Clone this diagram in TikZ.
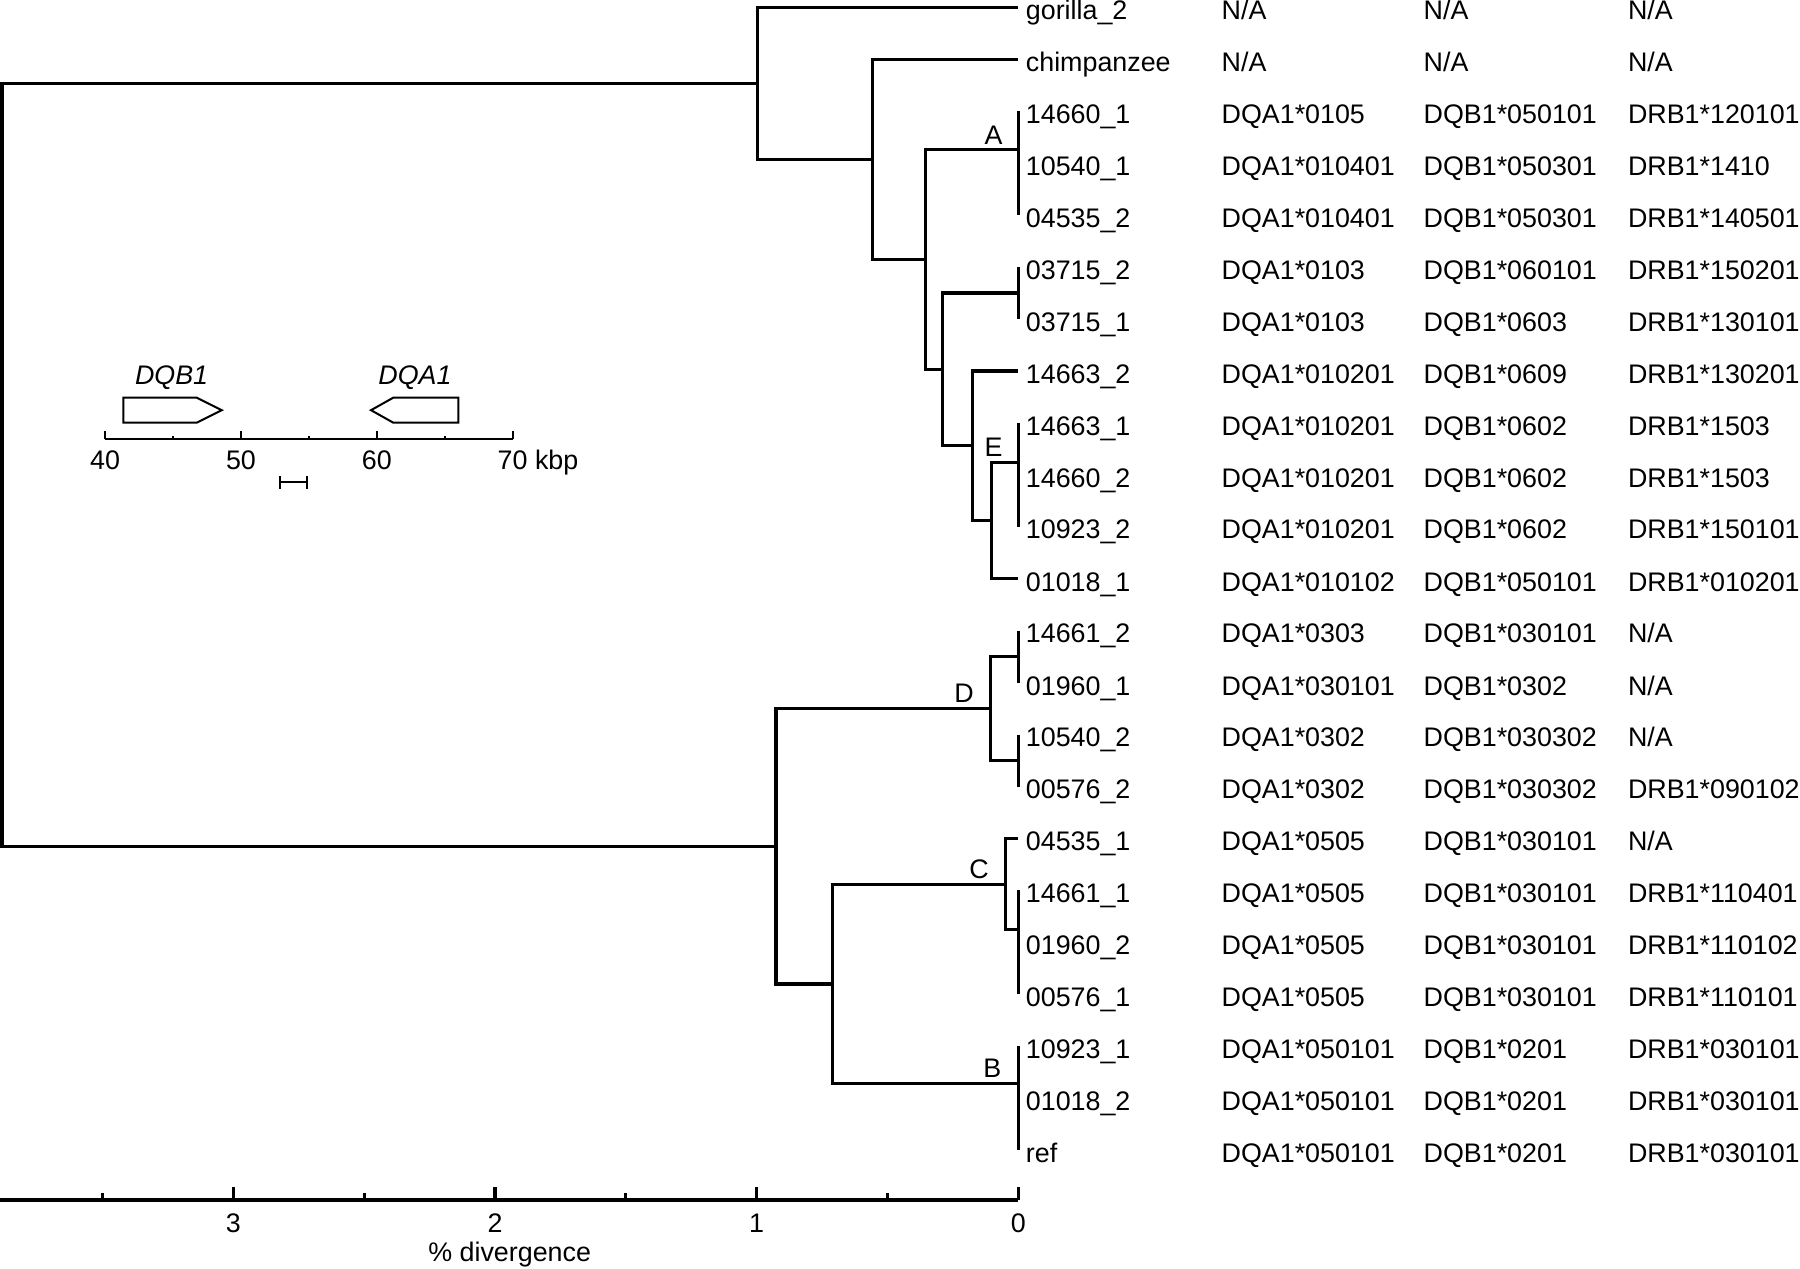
\documentclass[tikz,border=0pt]{standalone}
\usepackage{fontspec}
\setmainfont{Liberation Sans}
\usepackage{tikz}
\usetikzlibrary{arrows.meta}

\begin{document}
\begin{tikzpicture}[x=0.01cm, y=-0.01cm,
  branch/.style={line width=0.8pt},
  mapline/.style={line width=0.5pt},
  txt/.style={font=\fontsize{6.65}{8}\selectfont, inner sep=0pt},
  leaf/.style={txt, anchor=base west},
  allele/.style={txt, anchor=base west},
  clade/.style={txt, anchor=base east},
  ticklbl/.style={txt, anchor=base},
  genelbl/.style={txt, anchor=base, font=\fontsize{6.65}{8}\selectfont\itshape}]
\useasboundingbox (0,0) rectangle (1568,1105);

% tips
\coordinate (p0) at (887,6.4);
\coordinate (p1) at (887,51.7);
\coordinate (p2) at (887,96.9);
\coordinate (p4) at (887,187.4);
\coordinate (p5) at (887,232.7);
\coordinate (p6) at (887,277.9);
\coordinate (p7) at (887,323.2);
\coordinate (p8) at (887,368.4);
\coordinate (p10) at (887,458.9);
\coordinate (p11) at (887,504.2);
\coordinate (p12) at (887,549.4);
\coordinate (p13) at (887,594.7);
\coordinate (p14) at (887,639.9);
\coordinate (p15) at (887,685.2);
\coordinate (p16) at (887,730.4);
\coordinate (p17) at (887,775.7);
\coordinate (p19) at (887,866.2);
\coordinate (p20) at (887,911.4);
\coordinate (p22) at (887,1001.9);

% internal nodes
\coordinate (root) at (1.7,404.9);
\coordinate (nG) at (660,72.6);
\coordinate (nC) at (760,138.9);
\coordinate (nS) at (806,226.1);
\coordinate (nA) at (887,130.4);
\coordinate (nT) at (821,321.8);
\coordinate (nP) at (887,255.3);
\coordinate (nU) at (847,388.3);
\coordinate (nV) at (864,453.5);
\coordinate (nE) at (887,402.8);
\coordinate (nL) at (676,737.2);
\coordinate (nD) at (863,617.3);
\coordinate (nD1) at (887,572);
\coordinate (nD2) at (887,662.5);
\coordinate (nM) at (725,857.1);
\coordinate (nCc) at (876,770.2);
\coordinate (nC3) at (887,810);
\coordinate (nB) at (887,944);

\draw[branch] (root) |- (nG);
\draw[branch] (root) |- (nL);

\draw[branch] (nG) |- (p0);
\draw[branch] (nG) |- (nC);
\draw[branch] (nC) |- (p1);
\draw[branch] (nC) |- (nS);
\draw[branch] (nS) |- (nA);
\draw[branch] (nS) |- (nT);
\draw[branch] (p2) -- (p4);
\draw[branch] (nT) |- (nP);
\draw[branch] (nT) |- (nU);
\draw[branch] (p5) -- (p6);
\draw[branch] (nU) |- (p7);
\draw[branch] (nU) |- (nV);
\draw[branch] (nV) |- (nE);
\draw[branch] (nV) |- (p11);
\draw[branch] (p8) -- (p10);

\draw[branch] (nL) |- (nD);
\draw[branch] (nL) |- (nM);
\draw[branch] (nD) |- (nD1);
\draw[branch] (nD) |- (nD2);
\draw[branch] (p12) -- (p13);
\draw[branch] (p14) -- (p15);
\draw[branch] (nM) |- (nCc);
\draw[branch] (nM) |- (nB);
\draw[branch] (nCc) |- (p16);
\draw[branch] (nCc) |- (nC3);
\draw[branch] (p17) -- (p19);
\draw[branch] (p20) -- (p22);

% clade letters
\node[clade] (cA) at (874,126) {A};
\node[clade] (cE) at (874,398) {E};
\node[clade] (cD) at (849,612) {D};
\node[clade] (cC) at (862,765) {C};
\node[clade] (cB) at (873,939) {B};

% leaves and alleles
\node[leaf] (t0) at (893,17) {gorilla\_2};
\node[allele] (qa0) at (1063.5,17) {N/A};
\node[allele] (qb0) at (1239.5,17) {N/A};
\node[allele] (dr0) at (1417.5,17) {N/A};

\node[leaf] (t1) at (893,62.5) {chimpanzee};
\node[allele] (qa1) at (1063.5,62.5) {N/A};
\node[allele] (qb1) at (1239.5,62.5) {N/A};
\node[allele] (dr1) at (1417.5,62.5) {N/A};

\node[leaf] (t2) at (893,107.5) {14660\_1};
\node[allele] (qa2) at (1063.5,107.5) {DQA1*0105};
\node[allele] (qb2) at (1239.5,107.5) {DQB1*050101};
\node[allele] (dr2) at (1417.5,107.5) {DRB1*120101};

\node[leaf] (t3) at (893,153) {10540\_1};
\node[allele] (qa3) at (1063.5,153) {DQA1*010401};
\node[allele] (qb3) at (1239.5,153) {DQB1*050301};
\node[allele] (dr3) at (1417.5,153) {DRB1*1410};

\node[leaf] (t4) at (893,198) {04535\_2};
\node[allele] (qa4) at (1063.5,198) {DQA1*010401};
\node[allele] (qb4) at (1239.5,198) {DQB1*050301};
\node[allele] (dr4) at (1417.5,198) {DRB1*140501};

\node[leaf] (t5) at (893,243.5) {03715\_2};
\node[allele] (qa5) at (1063.5,243.5) {DQA1*0103};
\node[allele] (qb5) at (1239.5,243.5) {DQB1*060101};
\node[allele] (dr5) at (1417.5,243.5) {DRB1*150201};

\node[leaf] (t6) at (893,288.5) {03715\_1};
\node[allele] (qa6) at (1063.5,288.5) {DQA1*0103};
\node[allele] (qb6) at (1239.5,288.5) {DQB1*0603};
\node[allele] (dr6) at (1417.5,288.5) {DRB1*130101};

\node[leaf] (t7) at (893,334) {14663\_2};
\node[allele] (qa7) at (1063.5,334) {DQA1*010201};
\node[allele] (qb7) at (1239.5,334) {DQB1*0609};
\node[allele] (dr7) at (1417.5,334) {DRB1*130201};

\node[leaf] (t8) at (893,379) {14663\_1};
\node[allele] (qa8) at (1063.5,379) {DQA1*010201};
\node[allele] (qb8) at (1239.5,379) {DQB1*0602};
\node[allele] (dr8) at (1417.5,379) {DRB1*1503};

\node[leaf] (t9) at (893,424.5) {14660\_2};
\node[allele] (qa9) at (1063.5,424.5) {DQA1*010201};
\node[allele] (qb9) at (1239.5,424.5) {DQB1*0602};
\node[allele] (dr9) at (1417.5,424.5) {DRB1*1503};

\node[leaf] (t10) at (893,469.5) {10923\_2};
\node[allele] (qa10) at (1063.5,469.5) {DQA1*010201};
\node[allele] (qb10) at (1239.5,469.5) {DQB1*0602};
\node[allele] (dr10) at (1417.5,469.5) {DRB1*150101};

\node[leaf] (t11) at (893,515) {01018\_1};
\node[allele] (qa11) at (1063.5,515) {DQA1*010102};
\node[allele] (qb11) at (1239.5,515) {DQB1*050101};
\node[allele] (dr11) at (1417.5,515) {DRB1*010201};

\node[leaf] (t12) at (893,560) {14661\_2};
\node[allele] (qa12) at (1063.5,560) {DQA1*0303};
\node[allele] (qb12) at (1239.5,560) {DQB1*030101};
\node[allele] (dr12) at (1417.5,560) {N/A};

\node[leaf] (t13) at (893,605.5) {01960\_1};
\node[allele] (qa13) at (1063.5,605.5) {DQA1*030101};
\node[allele] (qb13) at (1239.5,605.5) {DQB1*0302};
\node[allele] (dr13) at (1417.5,605.5) {N/A};

\node[leaf] (t14) at (893,650.5) {10540\_2};
\node[allele] (qa14) at (1063.5,650.5) {DQA1*0302};
\node[allele] (qb14) at (1239.5,650.5) {DQB1*030302};
\node[allele] (dr14) at (1417.5,650.5) {N/A};

\node[leaf] (t15) at (893,696) {00576\_2};
\node[allele] (qa15) at (1063.5,696) {DQA1*0302};
\node[allele] (qb15) at (1239.5,696) {DQB1*030302};
\node[allele] (dr15) at (1417.5,696) {DRB1*090102};

\node[leaf] (t16) at (893,741) {04535\_1};
\node[allele] (qa16) at (1063.5,741) {DQA1*0505};
\node[allele] (qb16) at (1239.5,741) {DQB1*030101};
\node[allele] (dr16) at (1417.5,741) {N/A};

\node[leaf] (t17) at (893,786.5) {14661\_1};
\node[allele] (qa17) at (1063.5,786.5) {DQA1*0505};
\node[allele] (qb17) at (1239.5,786.5) {DQB1*030101};
\node[allele] (dr17) at (1417.5,786.5) {DRB1*110401};

\node[leaf] (t18) at (893,831.5) {01960\_2};
\node[allele] (qa18) at (1063.5,831.5) {DQA1*0505};
\node[allele] (qb18) at (1239.5,831.5) {DQB1*030101};
\node[allele] (dr18) at (1417.5,831.5) {DRB1*110102};

\node[leaf] (t19) at (893,877) {00576\_1};
\node[allele] (qa19) at (1063.5,877) {DQA1*0505};
\node[allele] (qb19) at (1239.5,877) {DQB1*030101};
\node[allele] (dr19) at (1417.5,877) {DRB1*110101};

\node[leaf] (t20) at (893,922) {10923\_1};
\node[allele] (qa20) at (1063.5,922) {DQA1*050101};
\node[allele] (qb20) at (1239.5,922) {DQB1*0201};
\node[allele] (dr20) at (1417.5,922) {DRB1*030101};

\node[leaf] (t21) at (893,967.5) {01018\_2};
\node[allele] (qa21) at (1063.5,967.5) {DQA1*050101};
\node[allele] (qb21) at (1239.5,967.5) {DQB1*0201};
\node[allele] (dr21) at (1417.5,967.5) {DRB1*030101};

\node[leaf] (t22) at (893,1012.5) {ref};
\node[allele] (qa22) at (1063.5,1012.5) {DQA1*050101};
\node[allele] (qb22) at (1239.5,1012.5) {DQB1*0201};
\node[allele] (dr22) at (1417.5,1012.5) {DRB1*030101};

% divergence axis
\draw[branch] (0,1045.3) -- (887,1045.3);
\draw[branch] (887,1045.3) -- (887,1033.7);
\draw[branch] (659.1,1045.3) -- (659.1,1033.7);
\draw[branch] (431.2,1045.3) -- (431.2,1033.7);
\draw[branch] (203.3,1045.3) -- (203.3,1033.7);
\draw[branch] (773,1045.3) -- (773,1039);
\draw[branch] (545.2,1045.3) -- (545.2,1039);
\draw[branch] (317.3,1045.3) -- (317.3,1039);
\draw[branch] (89.4,1045.3) -- (89.4,1039);

\node[ticklbl] (d0) at (887,1074) {0};
\node[ticklbl] (d1) at (659.1,1074) {1};
\node[ticklbl] (d2) at (431.2,1074) {2};
\node[ticklbl] (d3) at (203.3,1074) {3};
\node[ticklbl] (dlab) at (444,1099) {\% divergence};

% gene map inset
\draw[mapline] (91.5,382.7) -- (446.6,382.7);
\draw[mapline] (91.5,382.7) -- (91.5,375.2);
\draw[mapline] (209.9,382.7) -- (209.9,375.2);
\draw[mapline] (328.2,382.7) -- (328.2,375.2);
\draw[mapline] (446.6,382.7) -- (446.6,375.2);
\draw[mapline] (150.7,382.7) -- (150.7,379.7);
\draw[mapline] (269,382.7) -- (269,379.7);
\draw[mapline] (387.4,382.7) -- (387.4,379.7);

\node[ticklbl] (k40) at (91.5,409) {40};
\node[ticklbl] (k50) at (209.9,409) {50};
\node[ticklbl] (k60) at (328.2,409) {60};
\node[ticklbl] (k70) at (446.6,409) {70\rlap{ kbp}};

\draw[mapline] (107.4,346.4) -- (171.3,346.4) -- (193.1,357.3) -- (171.3,368.2) -- (107.4,368.2) -- cycle;
\draw[mapline] (399.2,346.4) -- (342.6,346.4) -- (323.2,357.3) -- (342.6,368.2) -- (399.2,368.2) -- cycle;
\node[genelbl] (gB) at (149.5,334.5) {DQB1};
\node[genelbl] (gA) at (361.5,334.5) {DQA1};

\draw[mapline, {Bar[width=3.2pt]}-{Bar[width=3.2pt]}] (243,420) -- (268.6,420);
\end{tikzpicture}
\end{document}
